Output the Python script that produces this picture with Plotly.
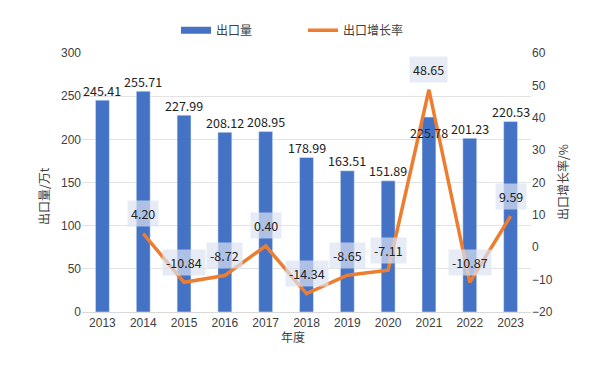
import plotly.graph_objects as go

years = ["2013", "2014", "2015", "2016", "2017", "2018", "2019", "2020", "2021", "2022", "2023"]
export_volume = [245.41, 255.71, 227.99, 208.12, 208.95, 178.99, 163.51, 151.89, 225.78, 201.23, 220.53]
growth_years = ["2014", "2015", "2016", "2017", "2018", "2019", "2020", "2021", "2022", "2023"]
growth_rate = [4.20, -10.84, -8.72, 0.40, -14.34, -8.65, -7.11, 48.65, -10.87, 9.59]

bar_color = "#4472C4"
line_color = "#ED7D31"
label_font = dict(family="Noto Sans CJK SC", size=12.5, color="#222222")
tick_font = dict(family="Liberation Sans, Arial", size=12, color="#404040")
cjk = "Noto Sans CJK SC"
title_font = dict(family=cjk, size=12, color="#404040")

fig = go.Figure()
fig.add_trace(go.Bar(x=years, y=export_volume, name="出口量", marker_color=bar_color,
                     yaxis="y", showlegend=False, legendgroup="vol"))
# legend entry for the bars, drawn as a wide rectangle like the reference
fig.add_trace(go.Scatter(x=[None], y=[None], name="出口量", mode="lines",
                         line=dict(color=bar_color, width=7), yaxis="y",
                         legendgroup="vol"))
fig.add_trace(go.Scatter(x=growth_years, y=growth_rate, name="出口增长率", mode="lines",
                         line=dict(color=line_color, width=3.5), yaxis="y2"))

annotations = []
for yr, v in zip(years, export_volume):
    shift = 10
    if yr == "2021":
        shift = -15
    annotations.append(dict(x=years.index(yr), y=v, xref="x", yref="y", text=f"{v:.2f}",
                            showarrow=False, yshift=shift, font=label_font))
for yr, v in zip(growth_years, growth_rate):
    annotations.append(dict(x=years.index(yr), y=v, xref="x", yref="y2", text=f"{v:.2f}",
                            showarrow=False, yshift=20, font=label_font,
                            bgcolor="rgba(220,226,242,0.7)", borderpad=3))

# axis titles
annotations.append(dict(text="出口量/万t", xref="paper", yref="paper", x=0, y=0.5,
                        xshift=-49, yshift=-14, textangle=-90, showarrow=False,
                        font=title_font))
annotations.append(dict(text="出口增长率/%", xref="paper", yref="paper", x=1, y=0.5,
                        xshift=42, textangle=-90, showarrow=False, font=title_font))
annotations.append(dict(text="年度", xref="paper", yref="paper", x=0.5, y=0,
                        xshift=-14, yshift=-35, showarrow=False, font=title_font))

fig.update_layout(
    width=600, height=372,
    margin=dict(l=74, r=77, t=45, b=68),
    paper_bgcolor="white", plot_bgcolor="white",
    bargap=0.66,
    showlegend=True,
    legend=dict(orientation="h", x=0.28, xanchor="left", xref="container",
                y=0.94, yanchor="middle", yref="container",
                font=dict(family=cjk, size=12, color="#404040"),
                entrywidth=82, traceorder="normal"),
    xaxis=dict(type="category", categoryorder="array", categoryarray=years,
               range=[-0.5, len(years) - 0.5], tickfont=tick_font, showgrid=False,
               showline=True, linecolor="#D9D9D9", ticks="", automargin=False),
    yaxis=dict(range=[0, 300], dtick=50, tickfont=tick_font, gridcolor="#E3E3E3",
               zeroline=False, ticks="", automargin=False),
    yaxis2=dict(range=[-20, 60], dtick=10, overlaying="y", side="right", showgrid=False,
                zeroline=False, tickfont=tick_font, ticks="", automargin=False),
    annotations=annotations,
)

fig.write_html("out.html")
